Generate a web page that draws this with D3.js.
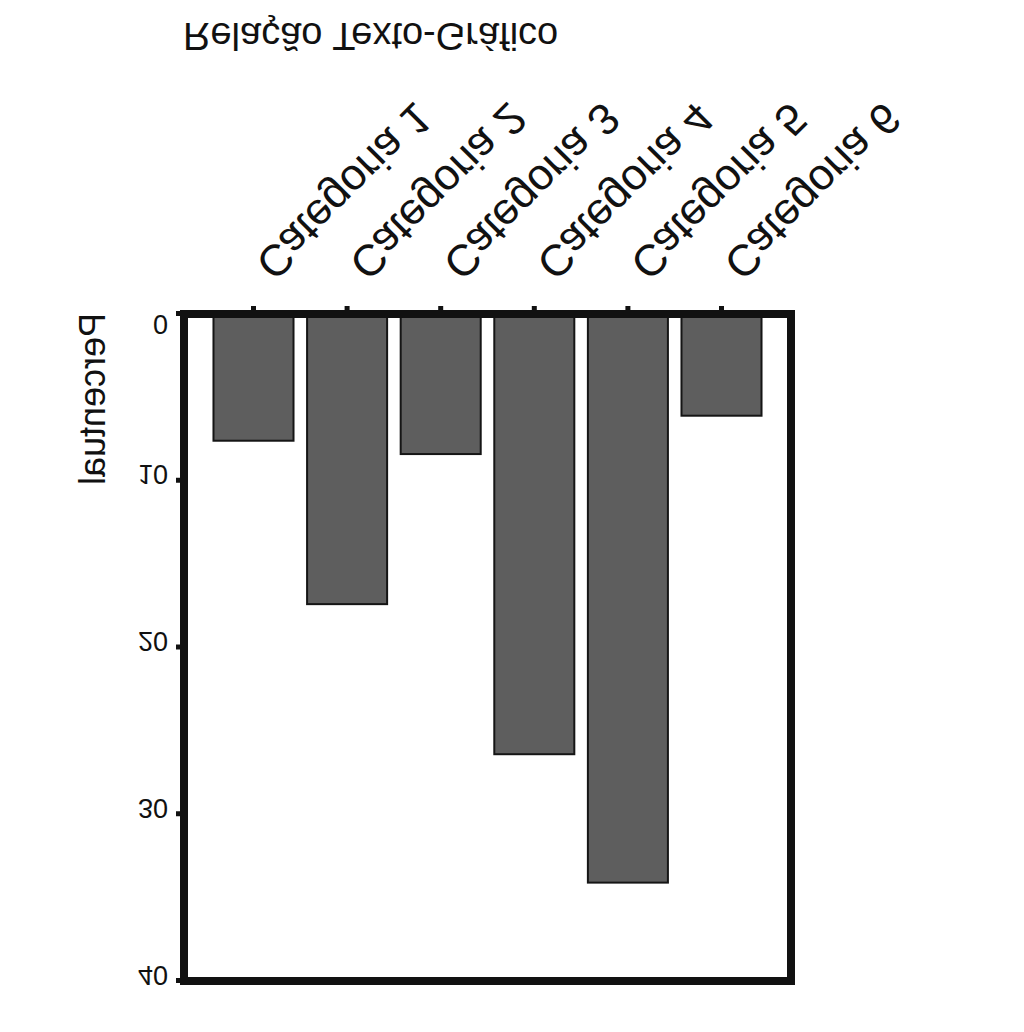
<!DOCTYPE html>
<html lang="pt">
<head>
	<meta charset="UTF-8">
	<title>Relação Texto-Gráfico</title>
	<script src="https://cdn.jsdelivr.net/npm/d3@7"></script>
	<style>
		body { margin: 0; background: #fff; }
		text { font-family: "Liberation Sans", Arial, Helvetica, sans-serif; fill: #111; }
	</style>
</head>
<body>
	<div id="vis"></div>

	<script>
		// data
		var categorias = ["Categoria 1", "Categoria 2", "Categoria 3", "Categoria 4", "Categoria 5", "Categoria 6"];
		var valores = [7.6, 17.4, 8.4, 26.4, 34.1, 6.1];
		var yTicks = [0, 10, 20, 30, 40];
		var titulo = "Relação Texto-Gráfico";
		var yTitulo = "Percentual";

		var width = 1024;
		var height = 1032;

		var svg = d3.select("#vis").append("svg")
				.attr("width", width)
				.attr("height", height);

		// the whole chart is drawn upright and then mirrored top to bottom
		var g = svg.append("g")
				.attr("transform", "translate(0," + height + ") scale(1,-1)");

		var plotLeft = 184, plotRight = 791, plotTop = 51, plotBottom = 718;

		var x = d3.scaleBand()
				.domain(categorias)
				.range([plotLeft, plotRight])
				.paddingInner(0.145)
				.paddingOuter(0.315);

		var y = d3.scaleLinear()
				.domain([0, 40])
				.range([plotBottom, plotTop]);

		// bars
		g.selectAll("rect.bar")
			.data(valores)
			.enter().append("rect")
			.attr("class", "bar")
			.attr("x", function(d, i) { return x(categorias[i]); })
			.attr("y", function(d) { return y(d); })
			.attr("width", x.bandwidth())
			.attr("height", function(d) { return y(0) - y(d); })
			.attr("fill", "#5e5e5e")
			.attr("stroke", "#151515")
			.attr("stroke-width", 2);

		// y axis
		var yAxis = g.append("g")
				.attr("transform", "translate(" + plotLeft + ",0)")
				.call(d3.axisLeft(y).tickValues(yTicks).tickSize(8).tickPadding(8));
		yAxis.select(".domain").remove();
		yAxis.selectAll(".tick line").attr("stroke", "#111").attr("stroke-width", 5);
		yAxis.selectAll(".tick text")
			.attr("font-size", 27)
			.attr("fill", "#111")
			.attr("dy", function(d) { return d === 0 ? "-0.05em" : "0.55em"; });

		// x axis ticks
		var xAxis = g.append("g")
				.attr("transform", "translate(0," + plotBottom + ")")
				.call(d3.axisBottom(x).tickSize(8).tickFormat(""));
		xAxis.select(".domain").remove();
		xAxis.selectAll(".tick line").attr("stroke", "#111").attr("stroke-width", 5);

		// category labels, rotated
		g.selectAll("text.cat")
			.data(categorias)
			.enter().append("text")
			.attr("class", "cat")
			.attr("transform", function(d) {
				return "translate(" + (x(d) + x.bandwidth() / 2) + "," + (plotBottom + 53) + ") rotate(45)";
			})
			.attr("font-size", 44)
			.text(function(d) { return d; });

		// frame
		g.append("rect")
			.attr("x", plotLeft)
			.attr("y", plotTop)
			.attr("width", plotRight - plotLeft)
			.attr("height", plotBottom - plotTop)
			.attr("fill", "none")
			.attr("stroke", "#111")
			.attr("stroke-width", 8);

		// y title
		g.append("text")
			.attr("transform", "translate(105," + (plotBottom + 1) + ") rotate(-90)")
			.attr("font-size", 36)
			.text(yTitulo);

		// title
		g.append("text")
			.attr("x", 183)
			.attr("y", height - 23)
			.attr("font-size", 38)
			.text(titulo);
	</script>
</body>
</html>
